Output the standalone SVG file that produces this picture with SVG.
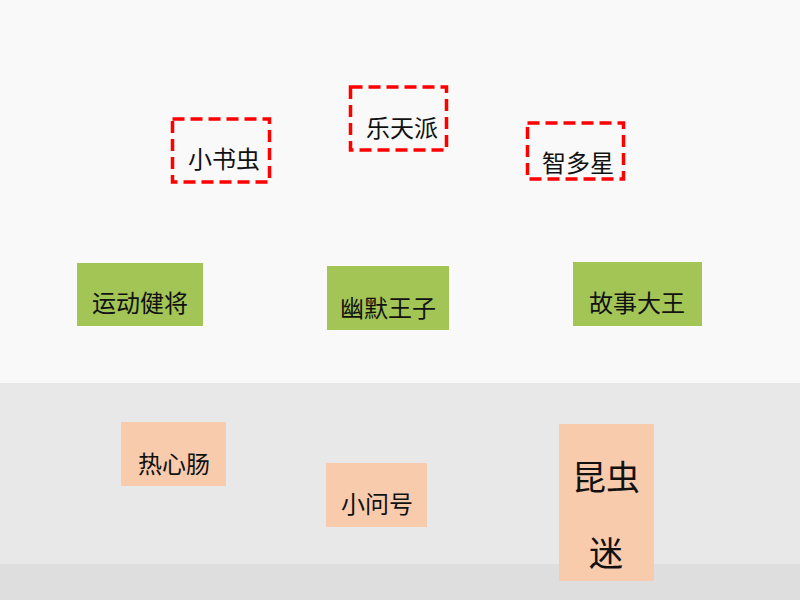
<svg xmlns="http://www.w3.org/2000/svg" width="800" height="600" viewBox="0 0 800 600">
<style>
text{font-family:"Microsoft YaHei","Noto Sans CJK SC",sans-serif;fill:#111;text-anchor:middle}
.t{font-size:24px}
.big{font-size:34px}
.dash{fill:none;stroke:#ff0000;stroke-width:3.5;stroke-dasharray:12 6}
.green{fill:#a2c556}
.peach{fill:#f8cbad}
</style>
<rect x="0" y="0" width="800" height="383" fill="#f9f9f9"/>
<rect x="0" y="383" width="800" height="181" fill="#e8e8e8"/>
<rect x="0" y="564" width="800" height="36" fill="#dedede"/>
<g id="connectors"/>
<g id="n-xiaoshuchong"><rect class="dash" x="172.5" y="119" width="97" height="63"/><text class="t" x="224" y="168">小书虫</text></g>
<g id="n-letianpai"><rect class="dash" x="350.5" y="87" width="96" height="63"/><text class="t" x="402" y="137">乐天派</text></g>
<g id="n-zhiduoxing"><rect class="dash" x="527.5" y="123" width="96" height="56"/><text class="t" x="578" y="172">智多星</text></g>
<g id="n-yundongjianjiang"><rect class="green" x="77" y="263" width="126" height="63"/><text class="t" x="140" y="312">运动健将</text></g>
<g id="n-youmowangzi"><rect class="green" x="327" y="266" width="122" height="64"/><text class="t" x="388" y="317">幽默王子</text></g>
<g id="n-gushidawang"><rect class="green" x="573" y="262" width="129" height="64"/><text class="t" x="637" y="312">故事大王</text></g>
<g id="n-rexinchang"><rect class="peach" x="121" y="422" width="105" height="64"/><text class="t" x="174" y="473">热心肠</text></g>
<g id="n-xiaowenhao"><rect class="peach" x="326" y="463" width="101" height="64"/><text class="t" x="377" y="513">小问号</text></g>
<g id="n-kunchongmi"><rect class="peach" x="559" y="424" width="95" height="157"/><text class="big" x="606" y="490">昆虫</text><text class="big" x="606" y="566">迷</text></g>
</svg>
